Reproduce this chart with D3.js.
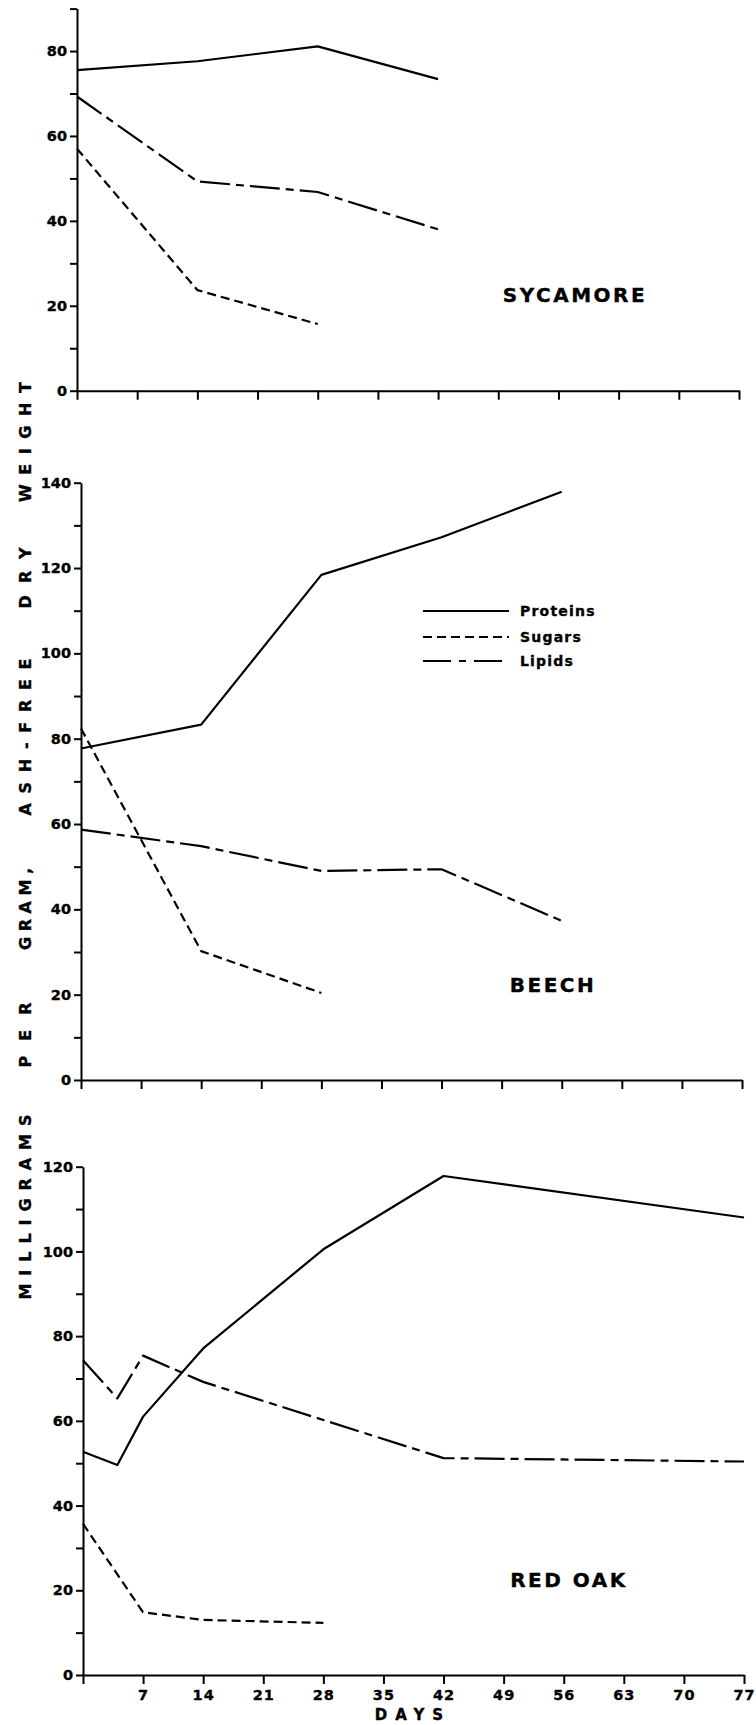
<!DOCTYPE html>
<html>
<head>
<meta charset="utf-8">
<script src="https://cdn.jsdelivr.net/npm/d3@7"></script>
<style>
  body { margin: 0; background: #fff; }
  svg { display: block; font-family: 'DejaVu Sans', sans-serif; font-weight: bold; }
  svg text { stroke: #000; stroke-width: 0.35px; }
</style>
</head>
<body>
<div id="chart"></div>
<script>
// data (days vs mg per g ash-free dry weight)
const dayTicks = [0, 7, 14, 21, 28, 35, 42, 49, 56, 63, 70, 77]

const sycDays = [0, 14, 28, 42]
const sycProteins = [75.5, 77.6, 81.1, 73.4]
const sycLipids = [69.3, 49.3, 46.8, 38.0]
const sycSugarDays = [0, 14, 28]
const sycSugars = [57.0, 23.7, 15.7]

const beechDays = [0, 14, 28, 42, 56]
const beechProteins = [77.7, 83.3, 118.4, 127.2, 137.9]
const beechLipids = [58.7, 54.8, 49.0, 49.4, 37.3]
const beechSugarDays = [0, 14, 28]
const beechSugars = [82.4, 30.2, 20.4]

const oakDays = [0, 4, 7, 14, 28, 42, 77]
const oakProteins = [52.7, 49.6, 61.0, 77.1, 100.5, 117.8, 108.0]
const oakLipids = [74.3, 65.3, 75.4, 69.2, 60.2, 51.2, 50.4]
const oakSugarDays = [0, 7, 14, 28]
const oakSugars = [35.7, 14.8, 13.0, 12.3]

const seriesNames = ['Proteins', 'Sugars', 'Lipids']
const dashes = { Proteins: null, Sugars: '9,5', Lipids: '30,6,8,6' }

const width = 756
const height = 1725

const panels = [
  {
    name: 'SYCAMORE', yMax: 90, x0: 77, x1: 739, yBottom: 390.7, yTop: 8.6, labelX: 575, labelY: 295,
    series: [
      { key: 'Proteins', days: sycDays, values: sycProteins },
      { key: 'Lipids', days: sycDays, values: sycLipids },
      { key: 'Sugars', days: sycSugarDays, values: sycSugars }
    ]
  },
  {
    name: 'BEECH', yMax: 140, x0: 81, x1: 742, yBottom: 1080, yTop: 482.7, labelX: 553, labelY: 985,
    series: [
      { key: 'Proteins', days: beechDays, values: beechProteins },
      { key: 'Lipids', days: beechDays, values: beechLipids },
      { key: 'Sugars', days: beechSugarDays, values: beechSugars }
    ]
  },
  {
    name: 'RED OAK', yMax: 120, x0: 83, x1: 744, yBottom: 1675, yTop: 1166.7, labelX: 569, labelY: 1580,
    xLabels: true,
    series: [
      { key: 'Proteins', days: oakDays, values: oakProteins },
      { key: 'Lipids', days: oakDays, values: oakLipids },
      { key: 'Sugars', days: oakSugarDays, values: oakSugars }
    ]
  }
]

const svg = d3.select('#chart').append('svg').attr('width', width).attr('height', height)
svg.append('rect').attr('width', width).attr('height', height).attr('fill', '#fff')

panels.forEach((p) => {
  const x = d3.scaleLinear().domain([0, 77]).range([p.x0, p.x1])
  const y = d3.scaleLinear().domain([0, p.yMax]).range([p.yBottom, p.yTop])
  const g = svg.append('g')

  // x axis
  const xAxis = d3.axisBottom(x).tickValues(dayTicks).tickSize(9).tickSizeOuter(0).tickPadding(6)
    .tickFormat((d) => (p.xLabels && d > 0 ? d : ''))
  g.append('g').attr('transform', `translate(0,${p.yBottom})`).call(xAxis)
    .call((a) => a.selectAll('text').attr('font-size', 14.5).attr('font-family', 'DejaVu Sans').attr('font-weight', 'bold').attr('letter-spacing', 1))

  // y axis, minor ticks every 10, labels every 20
  const yAxis = d3.axisLeft(y).tickValues(d3.range(0, p.yMax + 1, 10)).tickSize(7).tickSizeOuter(0).tickPadding(3)
    .tickFormat((d) => (d % 20 === 0 ? d : ''))
  g.append('g').attr('transform', `translate(${p.x0},0)`).call(yAxis)
    .call((a) => a.selectAll('text').attr('font-size', 14.5).attr('font-family', 'DejaVu Sans').attr('font-weight', 'bold'))

  g.selectAll('.domain, .tick line').attr('stroke', '#000').attr('stroke-width', 2)

  const line = d3.line().x((d) => x(d[0])).y((d) => y(d[1]))
  g.append('g').selectAll('path')
    .data(p.series)
    .join('path')
    .attr('fill', 'none')
    .attr('stroke', '#000')
    .attr('stroke-width', 2.2)
    .attr('stroke-linejoin', 'round')
    .attr('stroke-dasharray', (s) => dashes[s.key])
    .attr('d', (s) => line(s.days.map((d, i) => [d, s.values[i]])))

  g.append('text')
    .attr('x', p.labelX).attr('y', p.labelY)
    .attr('dy', '0.36em')
    .attr('text-anchor', 'middle')
    .attr('font-size', 20)
    .attr('letter-spacing', 2.5)
    .text(p.name)
})

// legend (inside beech panel)
const legend = svg.append('g').attr('transform', 'translate(423,611)')
const item = legend.selectAll('g').data(seriesNames).join('g')
  .attr('transform', (d, i) => `translate(0,${[0, 26, 50][i]})`)
item.append('line')
  .attr('x1', 0).attr('x2', 86)
  .attr('stroke', '#000').attr('stroke-width', 2)
  .attr('stroke-dasharray', (d) => (d === 'Lipids' ? '28,8,7,8' : dashes[d]))
item.append('text')
  .attr('x', 97).attr('dy', '0.36em')
  .attr('font-size', 14).attr('letter-spacing', 1.2)
  .text((d) => d)

// y title, rotated, words spread along the left edge
const yTitle = [
  { word: 'MILLIGRAMS', c: 1207, len: 185 },
  { word: 'PER', c: 1035, len: 65 },
  { word: 'GRAM,', c: 909, len: 82 },
  { word: 'ASH-FREE', c: 737, len: 157 },
  { word: 'DRY', c: 578, len: 61 },
  { word: 'WEIGHT', c: 442, len: 120 }
]
svg.append('g').selectAll('text').data(yTitle).join('text')
  .attr('transform', (d) => `translate(25,${d.c}) rotate(-90)`)
  .attr('text-anchor', 'middle')
  .attr('dy', '0.36em')
  .attr('font-size', 16)
  .attr('textLength', (d) => d.len)
  .attr('lengthAdjust', 'spacing')
  .text((d) => d.word)

svg.append('text')
  .attr('x', 413).attr('y', 1715).attr('dy', '0.36em')
  .attr('text-anchor', 'middle')
  .attr('font-size', 15).attr('letter-spacing', 8)
  .text('DAYS')
</script>
</body>
</html>
